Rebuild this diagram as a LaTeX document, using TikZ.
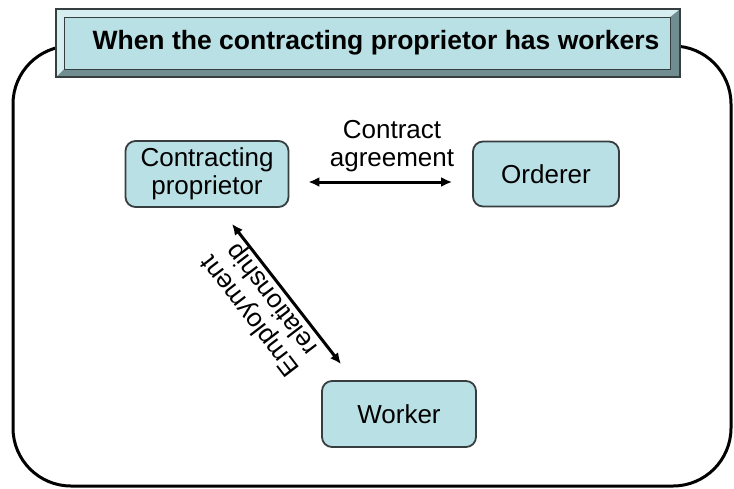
\documentclass[tikz,border=0pt]{standalone}
\usepackage{fontspec}
\setmainfont{Liberation Sans}
\usetikzlibrary{arrows.meta, positioning, calc}
\definecolor{boxfill}{RGB}{185,224,228}
\definecolor{bevlight}{RGB}{214,238,240}
\definecolor{bevdark}{RGB}{112,142,146}
\definecolor{boxline}{RGB}{55,62,64}
\tikzset{
    block/.style={rectangle, draw=boxline, line width=1.8pt, rounded corners=10pt, fill=boxfill, align=center,
        font=\fontsize{26}{28}\selectfont},
    arrow/.style={line width=3pt, <->, >={Latex[length=11pt, width=10pt]}},
    tag/.style={align=center, font=\fontsize{26}{28}\selectfont, inner sep=0pt},
    headbox/.style={rectangle, draw=boxline, line width=1pt, fill=boxfill, inner sep=0pt,
        font=\bfseries\fontsize{26.5}{28}\selectfont}
}

\begin{document}
\begin{tikzpicture}[x=1pt, y=-1pt]
            \useasboundingbox (0,0) rectangle (734,488);
            % frame round the whole case
            \draw[line width=3pt, rounded corners=58pt] (13,46) rectangle (731,486);
            % bevelled heading
            \fill[bevdark] (56,9) rectangle (680,77);
            \fill[bevlight] (56,9) -- (680,9) -- (670,17) -- (64,17) -- (64,69) -- (56,77) -- cycle;
            \node[headbox, minimum width=606pt, minimum height=52pt] (heading) at (367,43)
                {\hspace*{18pt}When the contracting proprietor has workers};
            \draw[boxline, line width=1.8pt] (56,9) rectangle (680,77);

            \node[block, minimum width=163pt, minimum height=66pt] (prop) at (207,174) {Contracting\\proprietor};
            \node[block, minimum width=146pt, minimum height=65pt] (ord) at (546,174) {Orderer};
            \node[block, minimum width=154pt, minimum height=66pt] (work) at (399,414) {Worker};

            \draw[arrow] ([shift={(19,8)}]prop.east) -- ([shift={(-20,8)}]ord.west);
            \node[tag] (contract) at (392,146) {Contract\\agreement};

            \coordinate (e1) at ([shift={(25,16)}]prop.south);
            \coordinate (e2) at ([shift={(-58,-16)}]work.north);
            \draw[arrow] (e1) -- (e2);
            \node[tag, rotate=127.5] (employ) at (262,307) {Employment\\relationship};
        \end{tikzpicture}
\end{document}
